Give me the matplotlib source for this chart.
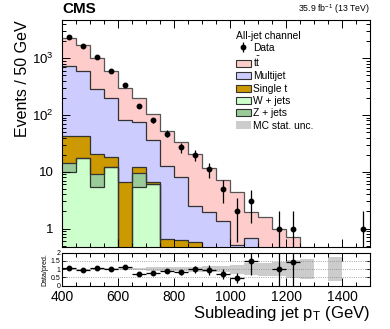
import numpy as np
import matplotlib
matplotlib.use("Agg")
import matplotlib.pyplot as plt
from matplotlib.ticker import MultipleLocator, FixedLocator, FixedFormatter, NullFormatter, LogLocator
from matplotlib.patches import Patch

plt.rcParams['font.family'] = ['Liberation Sans', 'DejaVu Sans']
plt.rcParams['mathtext.fontset'] = 'custom'
plt.rcParams['mathtext.rm'] = 'Liberation Sans'
plt.rcParams['mathtext.it'] = 'Liberation Sans:italic'

# binning: subleading jet pT, 50 GeV bins
edges = np.arange(400, 1501, 50)

# stacked MC components (events / bin)
wjets    = [10, 17.2, 5.3, 12, 0, 5.4, 6.0, 0, 0, 0, 0, 0, 0, 0, 0, 0, 0, 0, 0, 0, 0, 0]
zjets    = [4.4, 0, 3.8, 0, 0, 4.0, 0, 0, 0, 0, 0, 0, 0, 0, 0, 0, 0, 0, 0, 0, 0, 0]
singlet  = [28.3, 25.5, 11.4, 5.9, 6.7, 2.6, 0.7, 0.645, 0.62, 0.57, 0, 0, 0, 0, 0, 0, 0, 0, 0, 0, 0, 0]
multijet = [688, 554, 268, 179, 75, 62, 29, 12.0, 7.6, 1.93, 1.92, 1.37, 0.52, 0.69, 0, 0, 0, 0, 0, 0, 0, 0]
ttbar    = [1519, 1123, 712, 400, 221, 128, 68, 39.4, 24.8, 17.8, 9.6, 5.7, 3.9, 1.3,
            1.57, 1.0, 0.70, 0.4, 0, 0.3, 0, 0]
# relative MC statistical uncertainty
mc_unc   = [0.03, 0.03, 0.04, 0.05, 0.08, 0.08, 0.1, 0.1, 0.12, 0.15, 0.18, 0.2, 0.27, 0.35,
            0.4, 0.45, 0.55, 0.6, 0, 0.72, 0, 0]
data     = [2350, 1650, 1040, 600, 338, 146, 80, 47, 27, 20, 11, 5, 2, 3, 0, 1, 1, 0, 0, 0, 0, 1]

# stacking order, bottom to top
comps = [
    (wjets, '#ccffcc', 'W + jets'),
    (zjets, '#99cc99', 'Z + jets'),
    (singlet, '#cc9900', 'Single t'),
    (multijet, '#ccccff', 'Multijet'),
    (ttbar, '#ffcccc', r'$\mathrm{t\bar{t}}$'),
]
legend_order = [4, 3, 2, 0, 1]

centers = 0.5 * (edges[:-1] + edges[1:])
data = np.array(data, dtype=float)
unc = np.array(mc_unc)

fig = plt.figure(figsize=(3.9, 3.29), dpi=100)
ax = fig.add_axes([0.1597, 0.2502, 0.7897, 0.6875])
rax = fig.add_axes([0.1597, 0.1322, 0.7897, 0.0997])

floor = 1e-3
base = np.full(len(centers), floor)
tops = []
for vals, col, lab in comps:
    top = np.maximum(base + np.array(vals), floor)
    ax.stairs(top, edges, baseline=base, fill=True, color=col, lw=0)
    tops.append(top)
    base = top
total = base - floor

for i, top in enumerate(tops):
    ax.stairs(top, edges, baseline=None, color='#555555' if i == len(tops) - 1 else '#333333', lw=0.9)

m = data > 0
derr = ax.errorbar(centers[m], data[m], yerr=np.sqrt(data[m]), fmt='o', color='black',
                   ms=3.2, lw=0.9, capsize=0)

ax.set_yscale('log', nonpositive='clip')
ax.set_xlim(400, 1500)
ax.set_ylim(0.48, 4600)
ax.yaxis.set_major_locator(FixedLocator([1, 10, 100, 1000]))
ax.yaxis.set_major_formatter(FixedFormatter(['1', '10', r'$10^2$', r'$10^3$']))
ax.yaxis.set_minor_locator(LogLocator(base=10, subs=np.arange(2, 10)))
ax.yaxis.set_minor_formatter(NullFormatter())
ax.xaxis.set_major_locator(MultipleLocator(200))
ax.xaxis.set_minor_locator(MultipleLocator(50))
ax.tick_params(which='both', direction='in', top=True, right=True, width=0.7, labelbottom=False)
ax.tick_params(which='major', length=5.5)
ax.tick_params(which='minor', length=2.8)
ax.tick_params(axis='y', labelsize=9.5, pad=6)
ax.set_ylabel('Events / 50 GeV', fontsize=11.5, loc='top', labelpad=2)

ax.text(0.0, 1.02, 'CMS', transform=ax.transAxes, fontsize=11, fontweight='bold',
        ha='left', va='bottom')
ax.text(1.0, 1.02, r'35.9 fb$^{-1}$ (13 TeV)', transform=ax.transAxes, fontsize=6.3,
        ha='right', va='bottom')

handles = [derr] + [Patch(facecolor=comps[i][1], edgecolor='#333333', lw=0.8) for i in legend_order]
labels = ['Data'] + [comps[i][2] for i in legend_order]
handles.append(Patch(facecolor='#cccccc', edgecolor='none'))
labels.append('MC stat. unc.')
leg = ax.legend(handles, labels, title='All-jet channel', loc='upper left',
                bbox_to_anchor=(0.563, 0.955), frameon=False, fontsize=7.4,
                title_fontsize=7.4, handlelength=1.5, handleheight=0.7,
                handletextpad=0.15, labelspacing=0.22, borderpad=0, borderaxespad=0,
                alignment='left')

# ratio panel
rax.stairs(1 + unc, edges, baseline=1 - unc, fill=True, color='#cccccc', lw=0)
for yv in (0.5, 1.0, 1.5):
    rax.axhline(yv, color='#888888', lw=0.6, ls=':')
rm = (data > 0) & (total > 0)
ratio = data[rm] / total[rm]
rerr = np.sqrt(data[rm]) / total[rm]
rax.errorbar(centers[rm], ratio, yerr=rerr, xerr=25, fmt='o', color='black',
             ms=3.2, lw=0.9, capsize=0)
rax.set_xlim(400, 1500)
rax.set_ylim(0, 2)
rax.set_yticks([0, 0.5, 1, 1.5, 2])
rax.set_yticklabels(['0', '0.5', '1', '1.5', '2'])
rax.xaxis.set_major_locator(MultipleLocator(200))
rax.xaxis.set_minor_locator(MultipleLocator(50))
rax.tick_params(which='both', direction='in', top=True, right=True, width=0.7)
rax.tick_params(which='major', length=5.5)
rax.tick_params(which='minor', length=2.8)
rax.tick_params(axis='y', labelsize=5, pad=1.5, length=3)
rax.tick_params(axis='x', labelsize=10, pad=3)
rax.set_ylabel('Data/pred.', fontsize=5, labelpad=1.5)
rax.set_xlabel(r'Subleading jet p$_\mathrm{T}$ (GeV)', fontsize=12, loc='right', labelpad=0)

fig.savefig('out.png', dpi=100)
